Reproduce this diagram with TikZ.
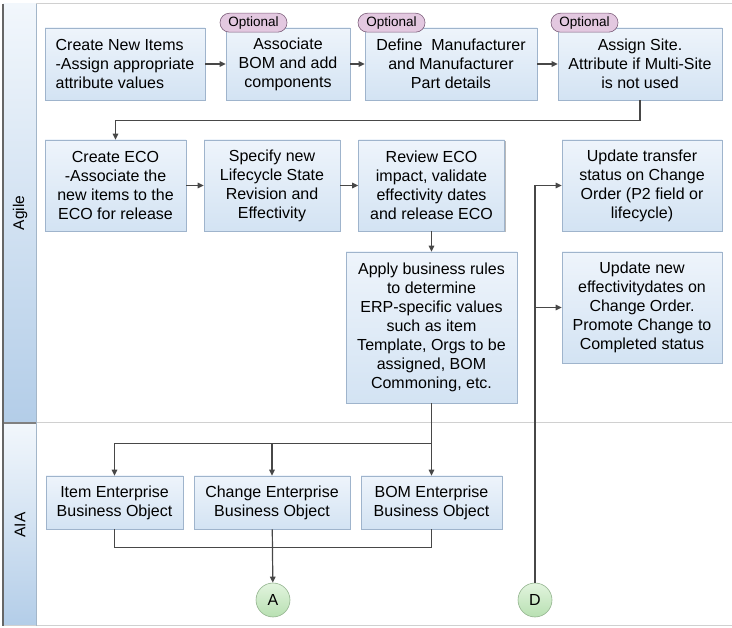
\documentclass[tikz,border=0pt]{standalone}
\usepackage{fontspec}
\setmainfont{Liberation Sans}
\usetikzlibrary{arrows.meta, positioning, shadows, shapes.misc}

\definecolor{boxtop}{HTML}{EEF4FB}
\definecolor{boxbot}{HTML}{D3E3F3}
\definecolor{boxline}{HTML}{9FB4CC}
\definecolor{lanetop}{HTML}{F2F7FC}
\definecolor{lanebot}{HTML}{B3CDE8}
\definecolor{framegray}{HTML}{D0D0D0}
\definecolor{wire}{HTML}{474747}
\definecolor{tagfill}{HTML}{E3C8E0}
\definecolor{tagline}{HTML}{7D5F7B}
\definecolor{offtop}{HTML}{E2F4DE}
\definecolor{offbot}{HTML}{B8E0B2}

\tikzset{
  activity/.style={draw=boxline, line width=0.6pt, top color=boxtop, bottom color=boxbot,
    align=center, inner sep=2pt, font=\fontsize{16}{19}\selectfont,
    drop shadow={shadow xshift=1pt, shadow yshift=-1.2pt, fill=black!55}},
  optional/.style={rounded rectangle, draw=tagline, line width=0.6pt, fill=tagfill,
    inner xsep=6pt, inner ysep=0pt, minimum height=19pt, font=\fontsize{13.5}{15}\selectfont},
  offpage/.style={circle, draw=offbot!80!black, line width=0.6pt, top color=offtop,
    bottom color=offbot, minimum size=34pt, inner sep=0pt, font=\fontsize{16}{18}\selectfont},
  wireline/.style={draw=wire, line width=1.2pt},
  flow/.style={wireline, -{Triangle[length=6pt, width=5.5pt]}}
}

\begin{document}
\begin{tikzpicture}[x=1pt, y=1pt]
    \useasboundingbox (0,0) rectangle (732,-628);

    % swim lanes
    \shade[top color=lanetop, bottom color=lanebot] (3,-4) rectangle (36,-423);
    \shade[top color=lanetop, bottom color=lanebot] (3,-423) rectangle (36,-626);
    \draw[framegray, line width=1pt] (36,-4) -- (732,-4)
          (36,-423) -- (732,-423)
          (3,-626) -- (732,-626);
    \draw[gray, line width=1.2pt] (3,-423) -- (36,-423);
    \draw[gray!80!black, line width=1.5pt] (3,-4) -- (3,-626);
    \draw[lanebot!70!gray, line width=0.6pt] (36,-4) -- (36,-626);
    \node[rotate=90, font=\fontsize{15.5}{18}\selectfont] (agile) at (20,-213) {Agile};
    \node[rotate=90, font=\fontsize{15.5}{18}\selectfont] (aia) at (20,-525) {AIA};

    % Agile lane
    \node[activity, minimum width=160, minimum height=72, align=left] (newitems) at (125,-64)
          {Create New Items\\-Assign appropriate\\attribute values};
    \node[activity, minimum width=124, minimum height=72] (bom) at (288,-64)
          {Associate\\BOM and add\\components};
    \node[activity, minimum width=172, minimum height=72] (mfr) at (451,-64)
          {Define\ \ Manufacturer\\and Manufacturer\\Part details};
    \node[activity, minimum width=164, minimum height=72] (site) at (640,-64)
          {Assign Site.\\Attribute if Multi-Site\\is not used};
    \node[activity, minimum width=141, minimum height=91] (eco) at (115.5,-185.5)
          {Create ECO\\-Associate the\\new items to the\\ECO for release};
    \node[activity, minimum width=136, minimum height=91] (lifecycle) at (272,-185.5)
          {Specify new\\Lifecycle State\\Revision and\\Effectivity};
    \node[activity, minimum width=146, minimum height=91] (review) at (431.5,-185.5)
          {Review ECO\\impact, validate\\effectivity dates\\and release ECO};
    \node[activity, minimum width=160, minimum height=91] (transfer) at (642,-185.5)
          {Update transfer\\status on Change\\Order (P2 field or\\lifecycle)};
    \node[activity, minimum width=171, minimum height=151] (rules) at (431.5,-327.5)
          {Apply business rules\\to determine\\ERP-specific values\\such as item\\Template, Orgs to be\\assigned, BOM\\Commoning, etc.};
    \node[activity, minimum width=160, minimum height=111] (dates) at (642,-307.5)
          {Update new\\effectivitydates on\\Change Order.\\Promote Change to\\Completed status};

    \node[optional, anchor=west] (optbom) at ([xshift=-6, yshift=5]bom.north west) {Optional};
    \node[optional, anchor=west] (optmfr) at ([xshift=-7, yshift=5]mfr.north west) {Optional};
    \node[optional, anchor=west] (optsite) at ([xshift=-7, yshift=5]site.north west) {Optional};

    % AIA lane
    \node[activity, minimum width=137, minimum height=53] (itemebo) at (114.5,-502.5)
          {Item Enterprise\\Business Object};
    \node[activity, minimum width=156, minimum height=53] (changeebo) at (272,-502.5)
          {Change Enterprise\\Business Object};
    \node[activity, minimum width=141, minimum height=53] (bomebo) at (431.5,-502.5)
          {BOM Enterprise\\Business Object};
    \node[offpage] (A) at (273,-600) {A};
    \node[offpage] (D) at (535,-600) {D};

    % connectors
    \draw[flow] (newitems) -- (bom);
    \draw[flow] (bom) -- (mfr);
    \draw[flow] (mfr) -- (site);
    \draw[flow] (site.south) -- ++(0,-20) -| (eco.north);
    \draw[flow] (eco) -- (lifecycle);
    \draw[flow] (lifecycle) -- (review);
    \draw[flow] (review) -- (rules);
    \draw[wireline] (rules.south) -- ++(0,-40) coordinate (split);
    \draw[flow] (split) -| (itemebo.north);
    \draw[flow] (split -| changeebo.north) -- (changeebo.north);
    \draw[flow] (split) -- (bomebo.north);
    \draw[wireline] (itemebo.south) -- ++(0,-18) -| (bomebo.south);
    \draw[flow] (changeebo) -- (A);
    \draw[flow] (D.north) |- (transfer.west);
    \draw[flow] (D.north |- dates.west) -- (dates.west);
\end{tikzpicture}
\end{document}
